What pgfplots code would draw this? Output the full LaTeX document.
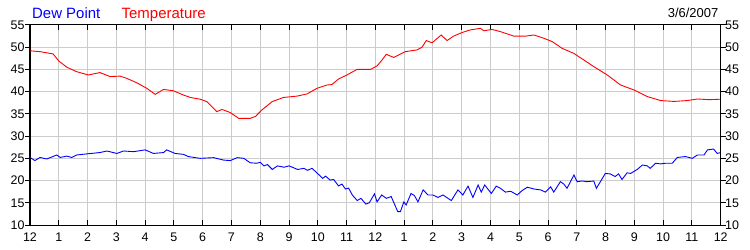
\documentclass[border=0pt]{standalone}
\usepackage{pgfplots}
\pgfplotsset{compat=1.18}
\usepackage{fontspec}
\setmainfont{Liberation Sans}
\definecolor{gridgray}{RGB}{204,204,204}
\definecolor{dewblue}{RGB}{0,0,255}
\definecolor{tempred}{RGB}{255,0,0}
\pgfplotsset{
  common/.style={
    at={(30bp,25bp)}, anchor=south west,
    scale only axis, width=690.7bp, height=200bp,
    xmin=0, xmax=24, ymin=10, ymax=55,
    axis line style={black, line width=1bp},
    tick label style={font=\fontsize{12.5}{15}\selectfont, black},
    /pgf/number format/assume math mode=true,
    ytick={10,15,...,55},
  }
}
\begin{document}
\begin{tikzpicture}
\useasboundingbox (0,0) rectangle (750bp,250bp);
% main axis with data, grid and x ticks
\begin{axis}[common,
  xtick={0,...,24},
  xticklabels={12,1,2,3,4,5,6,7,8,9,10,11,12,1,2,3,4,5,6,7,8,9,10,11,12},
  xticklabel style={yshift=-4bp},
  tick align=inside, major tick length=5bp,
  xtick pos=both,
  yticklabels={,,,,,,,,,},
  ytick style={draw=none},
  xtick style={black, line width=1bp},
  grid=major, major grid style={gridgray, line width=1bp},
]
\addplot[tempred, line width=0.9bp] coordinates {
(0,49.2)(0.35,49.0)(0.8,48.5)(1.0,46.9)(1.28,45.5)(1.62,44.5)(2.03,43.75)(2.43,44.3)(2.78,43.4)(3.13,43.5)(3.36,43.0)(3.71,42.0)(4.06,40.75)(4.35,39.4)(4.64,40.5)(4.98,40.2)(5.33,39.25)(5.57,38.7)(5.91,38.3)(6.15,37.75)(6.49,35.5)(6.67,36.0)(6.96,35.3)(7.25,34.0)(7.65,34.0)(7.83,34.4)(8.06,35.9)(8.41,37.75)(8.81,38.7)(9.28,39.0)(9.63,39.5)(9.97,40.75)(10.32,41.5)(10.49,41.6)(10.72,42.85)(11.01,43.75)(11.36,45.0)(11.83,45.0)(12.06,45.8)(12.23,47.1)(12.38,48.4)(12.64,47.7)(13.04,49.0)(13.45,49.4)(13.62,50.0)(13.77,51.5)(13.97,51.0)(14.29,52.75)(14.49,51.5)(14.72,52.5)(15.01,53.3)(15.3,53.9)(15.65,54.25)(15.77,53.7)(16.06,54.0)(16.35,53.5)(16.81,52.5)(17.22,52.5)(17.51,52.75)(17.86,52.0)(18.15,51.25)(18.49,49.75)(18.9,48.6)(19.25,47.1)(19.6,45.6)(20.06,43.75)(20.52,41.5)(20.98,40.4)(21.45,38.9)(21.91,38.0)(22.38,37.8)(22.84,38.0)(23.19,38.35)(23.6,38.2)(24,38.3)
};
\addplot[dewblue, line width=0.9bp] coordinates {
(0,25.2)(0.17,24.5)(0.35,25.2)(0.58,24.85)(0.93,25.75)(1.05,25.2)(1.28,25.5)(1.45,25.2)(1.62,25.75)(1.97,26.0)(2.43,26.3)(2.67,26.65)(3.02,26.1)(3.25,26.65)(3.6,26.5)(4.0,26.9)(4.29,26.1)(4.64,26.3)(4.75,26.9)(5.04,26.1)(5.33,25.9)(5.5,25.4)(5.91,25.0)(6.38,25.15)(6.73,24.6)(6.96,24.5)(7.2,25.15)(7.43,25.0)(7.65,24.0)(7.88,23.9)(8.0,24.1)(8.13,23.3)(8.25,23.6)(8.42,22.5)(8.6,23.3)(8.83,23.0)(9.0,23.3)(9.3,22.5)(9.52,22.75)(9.64,22.3)(9.8,22.75)(9.99,21.6)(10.17,20.5)(10.27,21.0)(10.43,20.1)(10.55,20.25)(10.72,18.8)(10.84,19.2)(10.96,18.1)(11.07,18.3)(11.2,16.75)(11.37,15.5)(11.5,16.0)(11.67,14.7)(11.79,15.0)(11.97,17.0)(12.06,15.2)(12.22,16.75)(12.38,16.0)(12.55,16.4)(12.78,13.0)(12.87,13.0)(12.99,15.2)(13.07,14.5)(13.24,17.1)(13.36,16.6)(13.48,15.2)(13.66,17.9)(13.83,16.75)(14.0,16.75)(14.18,16.2)(14.35,16.75)(14.64,15.5)(14.87,17.9)(15.04,16.75)(15.22,18.75)(15.39,16.2)(15.57,19.0)(15.68,17.4)(15.8,19.0)(16.03,17.1)(16.2,18.75)(16.35,18.25)(16.52,17.4)(16.7,17.6)(16.93,16.75)(17.1,17.75)(17.28,18.5)(17.51,18.1)(17.74,17.9)(17.91,17.4)(18.09,18.6)(18.2,17.4)(18.38,19.25)(18.43,19.75)(18.55,19.2)(18.66,18.25)(18.78,19.75)(18.9,21.25)(19.01,19.75)(19.18,19.9)(19.36,19.75)(19.59,19.9)(19.68,18.25)(19.82,19.75)(19.99,21.6)(20.16,21.5)(20.33,20.9)(20.45,21.5)(20.57,20.25)(20.75,21.75)(20.87,21.6)(21.1,22.5)(21.28,23.5)(21.45,23.3)(21.55,22.75)(21.74,23.9)(21.91,23.75)(22.09,23.9)(22.32,23.9)(22.49,25.2)(22.78,25.4)(23.01,25.0)(23.19,25.75)(23.42,25.75)(23.54,26.9)(23.75,27.1)(23.88,26.1)(24,26.3)
};
\end{axis}
% left y labels with outward ticks on both sides
\begin{axis}[common,
  xtick=\empty,
  tick align=outside, major tick length=5bp,
  ytick pos=both, yticklabel pos=left,
  ytick style={black, line width=1bp},
  yticklabel style={xshift=3bp},
]
\end{axis}
% right y labels
\begin{axis}[common,
  xtick=\empty,
  yticklabel pos=right,
  ytick style={draw=none},
  axis line style={draw=none},
  yticklabel style={xshift=1bp},
]
\end{axis}
\node[anchor=base west, inner sep=0pt, text=dewblue, font=\fontsize{15}{18}\selectfont] at (32bp,231.7bp) {Dew Point};
\node[anchor=base west, inner sep=0pt, text=tempred, font=\fontsize{15}{18}\selectfont] at (121.5bp,231.7bp) {Temperature};
\node[anchor=base east, inner sep=0pt, text=black, font=\fontsize{13}{15}\selectfont] at (718.5bp,232.5bp) {3/6/2007};
\end{tikzpicture}
\end{document}
